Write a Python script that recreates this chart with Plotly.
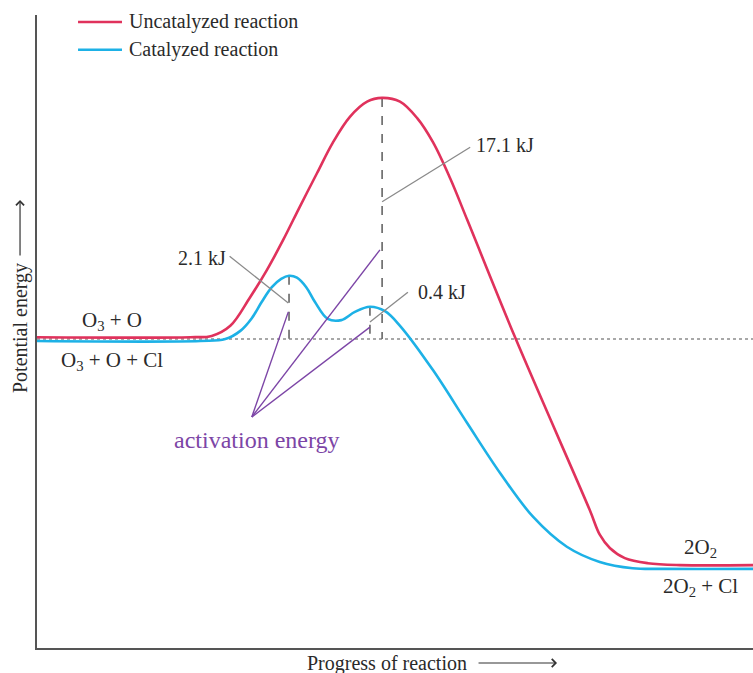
import plotly.graph_objects as go

# ---- data (progress 0-100, energy 0-100 arbitrary units) ----
uncat_x = [0, 21.4, 24.4, 27.0, 29.7, 32.1, 34.4, 36.7, 39.1, 41.3, 43.7, 46.1, 48.2, 50.7, 53.1,
           55.3, 57.7, 60.1, 66.8, 77.2, 78.6, 80.0, 82.1, 85.3, 89.8, 100]
uncat_y = [49.1, 49.1, 49.3, 50.9, 55.3, 59.7, 64.5, 69.7, 75.0, 79.8, 83.9, 86.3, 86.9, 86.3, 83.7,
           79.9, 74.2, 67.6, 49.0, 21.8, 17.9, 15.8, 14.2, 13.4, 13.1, 13.1]

cat_x = [0, 22.8, 26.3, 28.4, 30.0, 31.4, 32.8, 34.1, 35.2, 36.3, 37.6, 38.8, 40.6, 42.5, 44.4,
         46.5, 48.6, 50.7, 55.3, 60.1, 64.7, 69.3, 74.0, 78.6, 83.2, 87.7, 100]
cat_y = [48.5, 48.5, 48.8, 50.1, 52.1, 54.7, 57.0, 58.3, 58.8, 58.5, 57.0, 54.7, 52.0, 51.8, 53.1,
         53.9, 53.2, 50.9, 43.9, 35.5, 27.6, 20.7, 16.0, 13.6, 12.6, 12.5, 12.5]

series_names = ["Uncatalyzed reaction", "Catalyzed reaction"]
series_colors = ["#e0325c", "#1db1e6"]

reference_level = 48.8            # dotted reactant level
peak_x = [35.2, 46.5, 48.2]        # catalyzed peak 1, catalyzed peak 2, uncatalyzed peak
peak_y = [58.8, 53.9, 86.9]

energy_labels = ["2.1 kJ", "0.4 kJ", "17.1 kJ"]
energy_label_pos = [(26.9, 61.9), (51.8, 56.2), (60.5, 79.1)]
energy_label_target = [(35.1, 54.5), (46.5, 51.5), (48.2, 70.5)]
energy_text_pos = [(26.7, 61.6), (53.0, 56.3), (61.1, 79.4)]

act_apex = (30.0, 36.5)
act_ends = [(35.1, 53.1), (47.9, 62.9), (46.5, 50.7)]
act_text_pos = (30.7, 32.9)

species_labels = ["O<sub>3</sub> + O", "O<sub>3</sub> + O + Cl", "2O<sub>2</sub>", "2O<sub>2</sub> + Cl"]
species_pos = [(10.5, 51.6), (10.5, 45.4), (92.6, 15.8), (92.6, 9.6)]

FONT = "Liberation Serif, Times New Roman, serif"
TXT = "#2a2a2a"
PURPLE = "#7c45a6"

fig = go.Figure()

# dotted reference level
fig.add_trace(go.Scatter(x=[0, 100], y=[reference_level, reference_level], mode="lines",
                         line=dict(color="#a8a8a8", width=2, dash="dot"), showlegend=False, hoverinfo="skip"))

# dashed verticals from peaks
for px_, py_ in zip(peak_x, peak_y):
    fig.add_trace(go.Scatter(x=[px_, px_], y=[py_, reference_level], mode="lines",
                             line=dict(color="#666666", width=1.6, dash="dash"),
                             showlegend=False, hoverinfo="skip"))

# curves
fig.add_trace(go.Scatter(x=uncat_x, y=uncat_y, mode="lines", name=series_names[0],
                         line=dict(color=series_colors[0], width=2.6, shape="spline", smoothing=1.0),
                         showlegend=False))
fig.add_trace(go.Scatter(x=cat_x, y=cat_y, mode="lines", name=series_names[1],
                         line=dict(color=series_colors[1], width=2.6, shape="spline", smoothing=1.0),
                         showlegend=False))

# callout lines
for (lx, ly), (tx, ty) in zip(energy_label_pos, energy_label_target):
    fig.add_trace(go.Scatter(x=[lx, tx], y=[ly, ty], mode="lines",
                             line=dict(color="#8a8a8a", width=1.3), showlegend=False, hoverinfo="skip"))

# activation-energy lines
for ex, ey in act_ends:
    fig.add_trace(go.Scatter(x=[act_apex[0], ex], y=[act_apex[1], ey], mode="lines",
                             line=dict(color=PURPLE, width=1.4), showlegend=False, hoverinfo="skip"))

annotations = []
# energy labels
anchors = ["right", "left", "left"]
for txt, (lx, ly), anc in zip(energy_labels, energy_text_pos, anchors):
    annotations.append(dict(x=lx, y=ly, text=txt, showarrow=False,
                            xanchor=anc, yanchor="middle", font=dict(family=FONT, size=20, color=TXT)))
# species labels
for txt, (sx, sy) in zip(species_labels, species_pos):
    annotations.append(dict(x=sx, y=sy, text=txt, showarrow=False, xanchor="center", yanchor="middle",
                            font=dict(family=FONT, size=21, color=TXT)))
# activation energy text
annotations.append(dict(x=act_text_pos[0], y=act_text_pos[1], text="activation energy", showarrow=False,
                        xanchor="center", yanchor="middle", font=dict(family=FONT, size=24, color=PURPLE)))

# manual legend
leg_y = [98.9, 94.5]
for name, col, yy in zip(series_names, series_colors, leg_y):
    fig.add_shape(type="line", x0=5.73, x1=11.87, y0=yy, y1=yy, xref="x", yref="y",
                  line=dict(color=col, width=2.6))
    annotations.append(dict(x=12.6, y=yy, text=name, showarrow=False, xanchor="left", yanchor="middle",
                            font=dict(family=FONT, size=20, color=TXT)))

# axis titles
annotations.append(dict(x=0.4895, y=-0.0237, xref="paper", yref="paper", text="Progress of reaction",
                        showarrow=False, xanchor="center", yanchor="middle",
                        font=dict(family=FONT, size=20, color=TXT)))
annotations.append(dict(x=0.7263, y=-0.0237, xref="paper", yref="paper", ax=-80, ay=0, text="",
                        showarrow=True, arrowhead=4, arrowsize=1.3, arrowwidth=1.2, arrowcolor="#333"))
annotations.append(dict(x=-0.0237, y=0.5055, xref="paper", yref="paper", text="Potential energy",
                        showarrow=False, textangle=-90, xanchor="center", yanchor="middle",
                        font=dict(family=FONT, size=20, color=TXT)))
annotations.append(dict(x=-0.0237, y=0.7077, xref="paper", yref="paper", ax=0, ay=57, text="",
                        showarrow=True, arrowhead=4, arrowsize=1.3, arrowwidth=1.2, arrowcolor="#333"))

fig.update_layout(
    width=753, height=673,
    margin=dict(l=37, r=0, t=15, b=25),
    paper_bgcolor="white", plot_bgcolor="white",
    showlegend=False,
    annotations=annotations,
    xaxis=dict(range=[0, 100], showgrid=False, zeroline=False, showticklabels=False, ticks="",
               showline=True, linecolor="#555555", linewidth=1.5, fixedrange=True),
    yaxis=dict(range=[0, 100], showgrid=False, zeroline=False, showticklabels=False, ticks="",
               showline=True, linecolor="#555555", linewidth=1.5, fixedrange=True),
)

fig.write_html("out.html", config={"displayModeBar": False},
               post_script="document.body.style.margin='0px';document.body.style.overflow='hidden';")
